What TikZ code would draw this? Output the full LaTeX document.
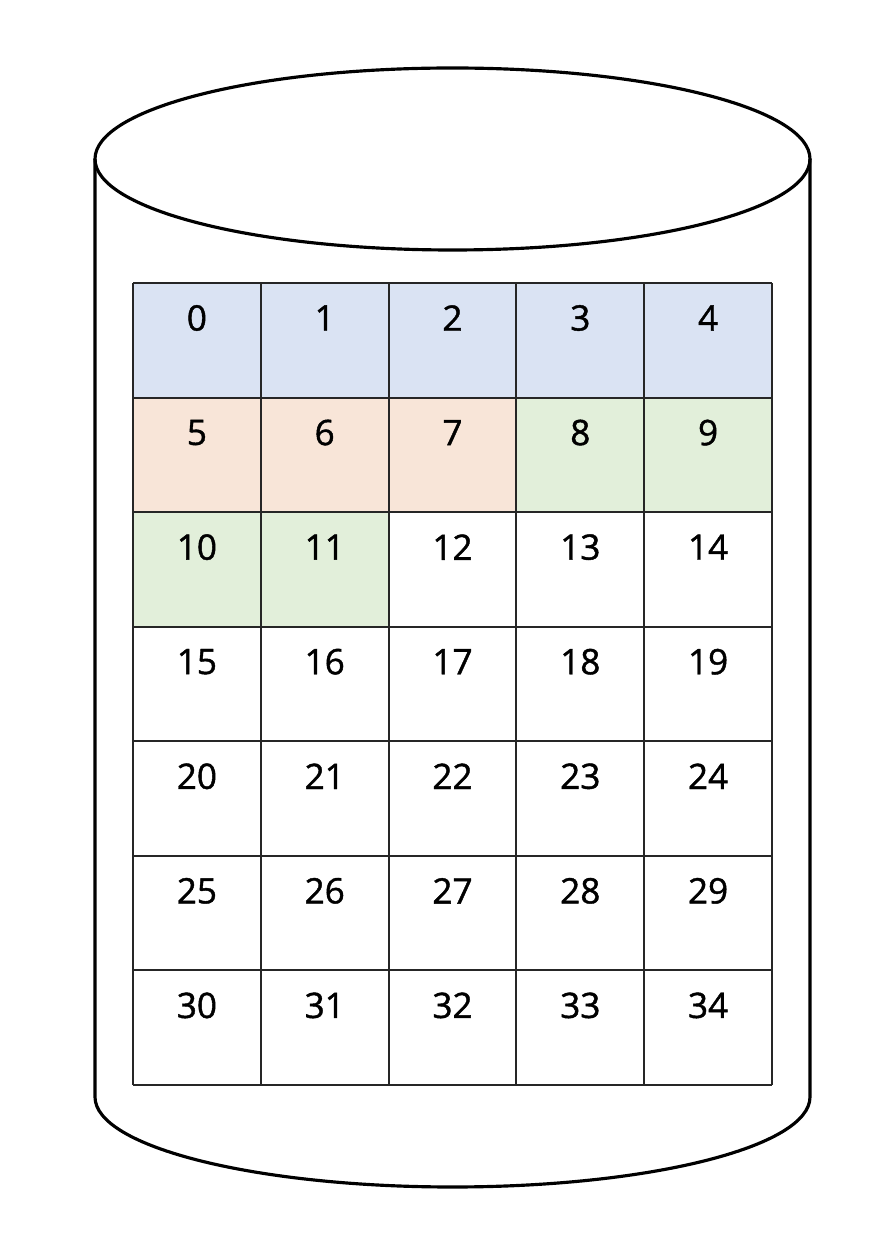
\documentclass[tikz,border=0pt]{standalone}
\usepackage{fontspec}
\setmainfont{Open Sans}[FakeBold=1.2,AutoFakeBold=1.2]
\usetikzlibrary{calc}
\definecolor{cellblue}{HTML}{DAE3F3}
\definecolor{cellorange}{HTML}{F8E5D8}
\definecolor{cellgreen}{HTML}{E2EFDA}

\begin{document}
\begin{tikzpicture}[x=0.02cm,y=0.02cm,
  drum/.style={line width=1.8pt},
  gridline/.style={line width=1.1pt,color=black!85},
  num/.style={font=\fontsize{20}{24}\selectfont\bfseries,inner sep=0pt}]
\useasboundingbox (0,0) rectangle (882,1252);
% cylinder
\draw[drum] (452.5,1093) ellipse (357.5 and 91);
\draw[drum] (95,1093) -- (95,155) arc(180:360:357.5 and 90) -- (810,1093);
% coloured cells
\fill[cellblue] (133,969) rectangle (772,854.43);
\fill[cellorange] (133,854.43) rectangle (516.4,739.86);
\fill[cellgreen] (516.4,854.43) rectangle (772,739.86);
\fill[cellgreen] (133,739.86) rectangle (388.6,625.29);
% grid
\foreach \c in {0,...,5}
  \draw[gridline] (133+\c*127.8,969) -- (133+\c*127.8,167);
\foreach \r in {0,...,7}
  \draw[gridline] (133,969-\r*114.571) -- (772,969-\r*114.571);
% numbers
\foreach \r in {0,...,6}
  \foreach \c in {0,...,4}{
    \pgfmathtruncatemacro{\n}{5*\r+\c}
    \node[num] (n\n) at (196.9+\c*127.8,934-\r*114.571) {\n};
  }
\end{tikzpicture}
\end{document}
